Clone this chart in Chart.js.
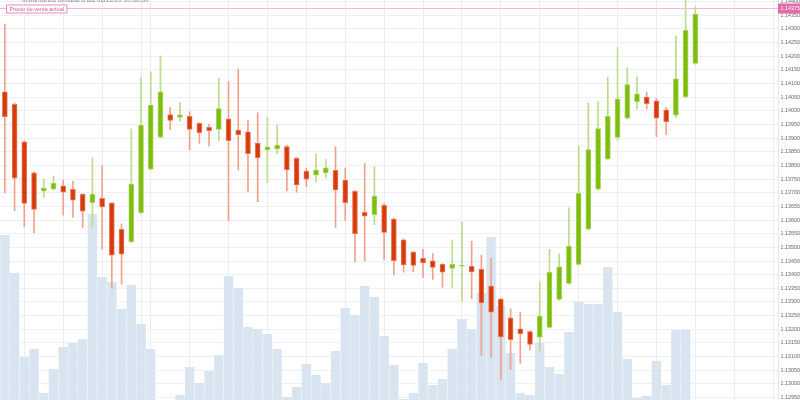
<!DOCTYPE html>
<html>
<head>
<meta charset="utf-8">
<script src="https://cdn.jsdelivr.net/npm/chart.js@4.4.0/dist/chart.umd.min.js"></script>
<style>
  html, body { margin: 0; padding: 0; background: #fff; }
  #wrap { width: 800px; height: 400px; }
</style>
</head>
<body>
<div id="wrap"><canvas id="myChart" width="800" height="400"></canvas></div>
<script>
// candle data (oldest first)
const openP = [1.14070, 1.14024, 1.13887, 1.13773, 1.13706, 1.13713, 1.13725, 1.13713, 1.13694, 1.13664,
  1.13680, 1.13662, 1.13566, 1.13521, 1.13627, 1.13786, 1.13904, 1.13986, 1.13976, 1.13980,
  1.13954, 1.13940, 1.13932, 1.13971, 1.13930, 1.13923, 1.13882, 1.13857, 1.13861, 1.13869,
  1.13826, 1.13779, 1.13764, 1.13773, 1.13782, 1.13746, 1.13705, 1.13628, 1.13620, 1.13654,
  1.13604, 1.13528, 1.13483, 1.13460, 1.13451, 1.13438, 1.13423, 1.13431, 1.13431, 1.13420,
  1.13358, 1.13311, 1.13242, 1.13202, 1.13192, 1.13171, 1.13207, 1.13309, 1.13368, 1.13438,
  1.13567, 1.13713, 1.13824, 1.13903, 1.13973, 1.14034, 1.14050, 1.14037, 1.14004, 1.13984,
  1.14051, 1.14174];
const highP = [1.14318, 1.14028, 1.13890, 1.13776, 1.13750, 1.13761, 1.13747, 1.13742, 1.13697, 1.13828,
  1.13799, 1.13665, 1.13586, 1.13934, 1.14123, 1.14143, 1.14201, 1.14013, 1.14030, 1.13997,
  1.13957, 1.13952, 1.14119, 1.14107, 1.14153, 1.13966, 1.13993, 1.13976, 1.13948, 1.13874,
  1.13829, 1.13791, 1.13842, 1.13822, 1.13869, 1.13791, 1.13708, 1.13808, 1.13795, 1.13661,
  1.13607, 1.13531, 1.13486, 1.13493, 1.13478, 1.13441, 1.13527, 1.13593, 1.13523, 1.13472,
  1.13460, 1.13314, 1.13275, 1.13263, 1.13195, 1.13374, 1.13493, 1.13476, 1.13645, 1.13872,
  1.14029, 1.14034, 1.14123, 1.14231, 1.14157, 1.14124, 1.14068, 1.14046, 1.14012, 1.14275,
  1.14420, 1.14382];
const lowP = [1.13700, 1.13634, 1.13576, 1.13554, 1.13683, 1.13710, 1.13618, 1.13610, 1.13573, 1.13573,
  1.13493, 1.13350, 1.13365, 1.13518, 1.13624, 1.13783, 1.13901, 1.13932, 1.13962, 1.13857,
  1.13881, 1.13872, 1.13891, 1.13598, 1.13783, 1.13704, 1.13667, 1.13737, 1.13843, 1.13708,
  1.13702, 1.13722, 1.13740, 1.13755, 1.13573, 1.13598, 1.13447, 1.13450, 1.13583, 1.13454,
  1.13399, 1.13409, 1.13411, 1.13389, 1.13383, 1.13354, 1.13352, 1.13302, 1.13312, 1.13105,
  1.13099, 1.13017, 1.13053, 1.13075, 1.13124, 1.13121, 1.13204, 1.13306, 1.13365, 1.13435,
  1.13564, 1.13710, 1.13821, 1.13893, 1.13970, 1.14006, 1.14007, 1.13905, 1.13914, 1.13975,
  1.14048, 1.14171];
const closeP = [1.13979, 1.13753, 1.13661, 1.13639, 1.13717, 1.13735, 1.13702, 1.13673, 1.13633, 1.13695,
  1.13648, 1.13471, 1.13475, 1.13732, 1.13947, 1.14021, 1.14070, 1.13965, 1.13985, 1.13932,
  1.13920, 1.13927, 1.14008, 1.13891, 1.13913, 1.13843, 1.13828, 1.13868, 1.13875, 1.13784,
  1.13729, 1.13750, 1.13783, 1.13791, 1.13710, 1.13664, 1.13550, 1.13614, 1.13688, 1.13555,
  1.13451, 1.13436, 1.13434, 1.13443, 1.13427, 1.13409, 1.13438, 1.13432, 1.13410, 1.13297,
  1.13263, 1.13172, 1.13162, 1.13184, 1.13145, 1.13248, 1.13409, 1.13429, 1.13505, 1.13698,
  1.13858, 1.13935, 1.13980, 1.14043, 1.14096, 1.14062, 1.14026, 1.13973, 1.13960, 1.14117,
  1.14295, 1.14354];
// volume per candle (relative units)
const volume = [165, 127, 43, 51, 7, 31, 53, 57, 61, 186,
  123, 118, 91, 115, 76, 51, 0, 0, 5, 33,
  17, 29, 45, 124, 112, 73, 71, 66, 51, 3,
  13, 36, 25, 17, 49, 92, 85, 114, 103, 64,
  35, 1, 7, 37, 15, 21, 51, 81, 71, 107,
  163, 94, 47, 7, 5, 57, 33, 26, 68, 98,
  96, 96, 133, 88, 41, 2, 4, 39, 15, 70,
  70, 0];

// 80 slots on the time axis, last ones still empty
const slots = Array.from({ length: 80 }, (_, i) => 'H' + i);

const currentPrice = 1.14375;
const currentLabel = 'Precio de venta actual';
const snapshotText = 'Instantánea tomada a las 02/11/20 10:00:00';

const yMin = 1.12941, yMax = 1.14406;

// colours
const upBody = '#7dbd0b', upEdge = '#a6d25c', upWick = '#bcdc8c';
const downBody = '#d83a0b', downEdge = '#e77a5c', downWick = '#eea28e';
const axisFont = '"Liberation Sans", Arial, sans-serif';

var isUp = openP.map((o, i) => closeP[i] >= o);

// vertical grid every 4 candles (one gap after the 14th)
function vGrid(i) {
    return i <= 14 ? (i - 2) % 4 === 0 : (i - 19) % 4 === 0;
}

// draws the current price line, its tags and the header text
const overlay = {
    id: 'overlay',
    afterDatasetsDraw(chart) {
        const c = chart.ctx, area = chart.chartArea;
        const y = Math.round(chart.scales.y.getPixelForValue(currentPrice)) + 0.5;
        c.save();
        c.strokeStyle = '#f3b6d6';
        c.lineWidth = 1;
        c.beginPath();
        c.moveTo(0, y);
        c.lineTo(area.right, y);
        c.stroke();

        // left tag
        c.font = '5.5px ' + axisFont;
        const w = c.measureText(currentLabel).width + 6;
        c.fillStyle = '#fff';
        c.fillRect(6.5, y - 3.5, w, 8);
        c.strokeStyle = '#e98cc0';
        c.strokeRect(6.5, y - 3.5, w, 8);
        c.fillStyle = '#d4589c';
        c.textBaseline = 'middle';
        c.textAlign = 'left';
        c.fillText(currentLabel, 9.5, y + 0.5);

        // right price tag
        c.fillStyle = '#e46aa8';
        c.fillRect(area.right, y - 5, 800 - area.right, 10);
        c.fillStyle = '#fff';
        c.font = '5.4px ' + axisFont;
        c.fillText(currentPrice.toFixed(5), area.right + 2.5, y + 0.5);

        // header (cut off by the top edge)
        c.fillStyle = '#888';
        c.font = '6.5px ' + axisFont;
        c.fillText(snapshotText, 22, 0);
        c.restore();
    }
};

var ctx = document.getElementById('myChart').getContext('2d');
var chart = new Chart(ctx, {
    type: 'bar',
    data: {
        labels: slots,
        datasets: [
            {
                // candle bodies
                data: openP.map((o, i) => [o, closeP[i]]),
                backgroundColor: isUp.map(u => u ? upBody : downBody),
                borderColor: isUp.map(u => u ? upEdge : downEdge),
                borderWidth: 1,
                borderSkipped: false,
                barThickness: 5,
                minBarLength: 1,
                grouped: false,
                yAxisID: 'y',
                order: 1
            },
            {
                // wicks
                data: lowP.map((l, i) => [l, highP[i]]),
                backgroundColor: isUp.map(u => u ? upWick : downWick),
                borderWidth: 0,
                barThickness: 1,
                grouped: false,
                yAxisID: 'y',
                order: 2
            },
            {
                // volume
                data: volume,
                backgroundColor: '#d8e5f0',
                borderWidth: 0,
                barPercentage: 0.96,
                categoryPercentage: 1,
                grouped: false,
                yAxisID: 'yv',
                order: 3
            }
        ]
    },
    options: {
        responsive: false,
        animation: false,
        layout: { padding: 0 },
        plugins: {
            legend: { display: false },
            tooltip: { enabled: false }
        },
        scales: {
            x: {
                offset: true,
                grid: {
                    offset: false,
                    drawTicks: false,
                    color: c => vGrid(c.index) ? '#ececf5' : 'rgba(0,0,0,0)'
                },
                border: { display: false },
                ticks: { display: false, autoSkip: false },
                afterFit: s => { s.height = 0; s.paddingLeft = 0; s.paddingRight = 0; }
            },
            y: {
                position: 'right',
                min: yMin,
                max: yMax,
                grid: { color: '#eff0f6', drawTicks: false },
                border: { display: true, color: '#e3e3ee' },
                ticks: {
                    stepSize: 0.0005,
                    includeBounds: false,
                    padding: 2.5,
                    color: '#666',
                    font: { size: 5.4, family: axisFont },
                    callback: v => v.toFixed(5)
                },
                afterFit: s => { s.width = 22; s.paddingTop = 0; s.paddingBottom = 0; }
            },
            yv: {
                display: false,
                min: 0,
                max: 400
            }
        }
    },
    plugins: [overlay]
});
</script>
</body>
</html>
